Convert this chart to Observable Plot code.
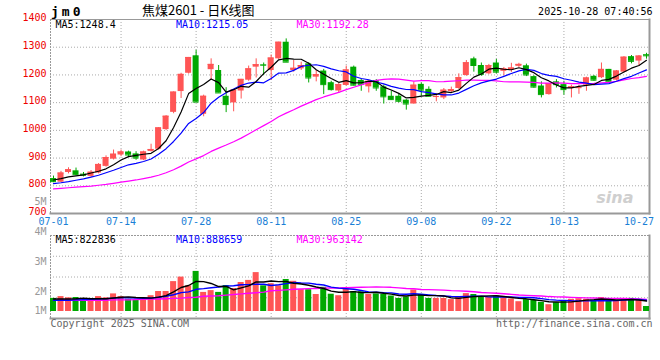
<!DOCTYPE html>
<html><head><meta charset="utf-8">
<script src="https://cdn.jsdelivr.net/npm/d3@7"></script>
<script src="https://cdn.jsdelivr.net/npm/@observablehq/plot@0.6"></script>
<style>
body{margin:0;background:#fff}
#chart{position:relative;width:660px;height:360px;overflow:hidden;background:#fff}
#chart svg{position:absolute;left:0;overflow:visible}
</style></head><body><div id="chart"></div>
<script>
const dates = ["07-01","07-02","07-03","07-04","07-07","07-08","07-09","07-10","07-11","07-14","07-15","07-16","07-17","07-18","07-21","07-22","07-23","07-24","07-25","07-28","07-29","07-30","07-31","08-01","08-04","08-05","08-06","08-07","08-08","08-11","08-12","08-13","08-14","08-15","08-18","08-19","08-20","08-21","08-22","08-25","08-26","08-27","08-28","08-29","09-01","09-02","09-03","09-04","09-05","09-08","09-09","09-10","09-11","09-12","09-15","09-16","09-17","09-18","09-19","09-22","09-23","09-24","09-25","09-26","09-29","09-30","10-09","10-10","10-13","10-14","10-15","10-16","10-17","10-20","10-21","10-22","10-23","10-24","10-27","10-28"];
const open = [826,813,848,854,842,834,846,870,896,911, 922,915,893,924,932,1003,1065,1140,1206,1269, 1058,1219,1216,1123,1099,1142,1181,1228,1237,1216, 1258,1318,1216,1222,1240,1192,1214,1172,1142,1162, 1228,1180,1157,1180,1157,1123,1123,1109,1095,1166, 1148,1120,1117,1140,1151,1198,1258,1234,1204,1243, 1213,1218,1231,1233,1194,1160,1129,1175,1165,1151, 1151,1163,1195,1190,1220,1181,1210,1266,1250,1273];
const high = [835,852,865,864,848,855,880,908,929,929, 925,923,925,950,1010,1053,1139,1206,1263,1289, 1127,1258,1234,1154,1145,1184,1232,1258,1243,1272, 1318,1330,1252,1246,1244,1216,1220,1177,1169,1232, 1232,1186,1177,1183,1163,1142,1133,1111,1175,1171, 1157,1133,1151,1156,1204,1252,1264,1243,1238,1256, 1227,1242,1242,1239,1197,1175,1169,1183,1177,1163, 1163,1192,1198,1243,1220,1216,1266,1270,1270,1278];
const low = [811,811,843,837,832,830,843,867,893,905, 905,892,891,922,929,999,1060,1115,1203,1100, 1049,1180,1135,1064,1067,1113,1177,1189,1198,1180, 1256,1246,1210,1216,1171,1175,1129,1142,1133,1160, 1160,1141,1135,1141,1095,1109,1099,1073,1095,1123, 1121,1103,1111,1135,1148,1195,1210,1195,1201,1204, 1197,1209,1227,1194,1152,1117,1127,1153,1127,1117, 1130,1141,1177,1187,1175,1178,1207,1240,1231,1257];
const close = [815,846,858,840,838,849,877,902,914,922, 911,900,922,931,1009,1051,1138,1202,1263,1102, 1123,1238,1135,1093,1145,1184,1222,1237,1235,1261, 1318,1246,1224,1234,1189,1201,1165,1147,1165,1218, 1163,1166,1177,1153,1121,1111,1105,1095,1163,1145, 1123,1122,1145,1147,1190,1244,1234,1202,1234,1210, 1222,1225,1238,1200,1156,1129,1169,1165,1147,1157, 1154,1189,1181,1220,1175,1214,1264,1249,1268,1269];
const volume = [1810000,1870000,1830000,1840000,1750000,1710000,1870000,1830000,1960000,1870000, 1780000,1760000,1780000,1900000,2040000,2040000,2370000,2520000,2230000,2710000, 2010000,2070000,2010000,2240000,2140000,2340000,2410000,2670000,2230000,2300000, 2230000,2440000,2380000,2100000,2100000,1940000,2180000,1950000,1900000,2110000, 2040000,2030000,1940000,1960000,1940000,1890000,1810000,1860000,2090000,1940000, 1810000,1810000,1810000,1770000,1860000,1970000,1940000,1860000,1840000,1890000, 1830000,1790000,1700000,1770000,1740000,1680000,1600000,1670000,1740000,1780000, 1800000,1780000,1740000,1840000,1710000,1710000,1800000,1810000,1750000,1540000];

// moving-average values before a full window is available
const ma5Lead = [821,826,832,836];
const ma10Lead = [808,811,815,820,825,831,838,847,856];
const ma30Lead = [789,791,793,795,797,799,802,805,809,813,817,821,826,831,838,847,858,871,886,897,909,924,936,947,959,972,987,1002,1017];
const vma5Lead = [1790000,1790000,1790000,1800000];
const vma10Lead = [1750000,1750000,1750000,1760000,1770000,1780000,1790000,1800000,1820000];
const vma30Lead = [1750000,1750000,1750000,1750000,1750000,1750000,1750000,1750000,1760000,1760000,1760000,1770000,1780000,1790000,1790000,1800000,1810000,1820000,1840000,1850000,1880000,1890000,1900000,1920000,1940000,1960000,1980000,2000000,2020000];

const priceTicks = [700,800,900,1000,1100,1200,1300,1400];
const volTicks = [1000000,2000000,3000000,4000000,5000000];
const xTickLabels = ["07-01","07-14","07-28","08-11","08-25","09-08","09-22","10-13","10-27"];
const maLegend = ["MA5:1248.4","MA10:1215.05","MA30:1192.28"];
const volMaLegend = ["MA5:822836","MA10:888659","MA30:963142"];
const maColors = ["#000000","#0000ff","#ff00ff"];
const titleCode = "jm0";
const titleText = "焦煤2601 - 日K线图";
const stamp = "2025-10-28 07:40:56";
const copyright = "Copyright 2025 SINA.COM";
const siteUrl = "http://finance.sina.com.cn";

function movingAvg(vals, n, lead) {
  return vals.map((v, i) => i < n - 1 ? lead[i] : d3.mean(vals.slice(i - n + 1, i + 1)));
}
const ma5 = movingAvg(close, 5, ma5Lead), ma10 = movingAvg(close, 10, ma10Lead), ma30 = movingAvg(close, 30, ma30Lead);
const vma5 = movingAvg(volume, 5, vma5Lead), vma10 = movingAvg(volume, 10, vma10Lead), vma30 = movingAvg(volume, 30, vma30Lead);

const RED = "#ff5555", GREEN = "#00a800";
const data = dates.map((d, i) => ({
  date: d, o: open[i], h: high[i], l: low[i], c: close[i], v: volume[i],
  col: close[i] >= open[i] ? RED : GREEN,
  ma5: ma5[i], ma10: ma10[i], ma30: ma30[i], vma5: vma5[i], vma10: vma10[i], vma30: vma30[i]
}));

const mono = "'DejaVu Sans Mono', monospace";
const GRID = {stroke: "#aaa", strokeOpacity: 1, strokeDasharray: "1,2"};
const xOpts = {type: "band", domain: dates, paddingInner: 0.2, paddingOuter: 0, axis: null};
const T = {lineAnchor: "middle"};
const legendDx = [5, 125.5, 246];

const price = Plot.plot({
  width: 660, height: 232, marginTop: 19, marginBottom: 19, marginLeft: 50, marginRight: 11,
  style: {fontFamily: mono, fontSize: "10px", overflow: "visible", background: "transparent"},
  x: xOpts,
  y: {domain: [700, 1400], axis: null},
  color: {type: "identity"},
  marks: [
    Plot.gridY(priceTicks.slice(1, -1), GRID),
    Plot.gridX(xTickLabels.slice(1, -1), GRID),
    Plot.frame({anchor: "top", stroke: "#999"}),
    Plot.frame({anchor: "left", stroke: "#999", strokeDasharray: "1,2"}),
    Plot.frame({anchor: "bottom", stroke: "#999", strokeWidth: 2}),
    Plot.frame({anchor: "right", stroke: "#999", strokeWidth: 2}),
    Plot.text(["sina"], {...T, frameAnchor: "bottom-right", dx: -16, dy: -16, fill: "#cfcfcf", fontSize: 16, fontWeight: "bold", fontStyle: "italic", fontFamily: "'DejaVu Sans', sans-serif"}),
    Plot.ruleX(data, {x: "date", y1: "l", y2: "h", stroke: "col"}),
    Plot.barY(data, {x: "date", y1: "o", y2: "c", fill: "col"}),
    Plot.tickY(data, {x: "date", y: "c", stroke: "col"}),
    Plot.lineY(data, {x: "date", y: "ma30", stroke: maColors[2], strokeWidth: 1.2}),
    Plot.lineY(data, {x: "date", y: "ma10", stroke: maColors[1], strokeWidth: 1.2}),
    Plot.lineY(data, {x: "date", y: "ma5", stroke: maColors[0], strokeWidth: 1.2}),
    Plot.text(priceTicks, {...T, y: d => d, text: d => String(d), frameAnchor: "left", dx: -4, dy: -1.5, textAnchor: "end", fill: "#ee0000"}),
    Plot.text(xTickLabels, {...T, x: d => d, text: d => d, frameAnchor: "bottom", dy: 8, fill: "#1a7fd6"}),
    ...maLegend.map((t, i) => Plot.text([t], {...T, text: d => d, frameAnchor: "top-left", dx: legendDx[i], dy: 5, textAnchor: "start", fill: maColors[i]})),
    Plot.text([titleCode], {...T, text: d => d, frameAnchor: "top-left", dx: 0.5, dy: -8, textAnchor: "start", fontSize: 13, fontWeight: "bold", fill: "#000"}),
    Plot.text([titleText], {...T, text: d => d, frameAnchor: "top-left", dx: 91.5, dy: -8.8, textAnchor: "start", fontSize: 13, fontFamily: "'Noto Sans CJK SC', sans-serif", fill: "#000"}),
    Plot.text([stamp], {...T, text: d => d, frameAnchor: "top-right", dx: 3, dy: -8, textAnchor: "end", fill: "#000"})
  ]
});
price.style.top = "0px";
price.querySelectorAll("text").forEach(t => {
  if (t.textContent === titleCode) t.style.letterSpacing = "3px";
});

const vDomain = [1140000, 3907000];
const vGrid = [1, 2, 3].map(k => vDomain[0] + (vDomain[1] - vDomain[0]) * k / 4);
const vol = Plot.plot({
  width: 660, height: 129, marginTop: 45, marginBottom: 1, marginLeft: 50, marginRight: 11,
  style: {fontFamily: mono, fontSize: "10px", overflow: "visible", background: "transparent"},
  x: xOpts,
  y: {domain: vDomain, axis: null},
  color: {type: "identity"},
  marks: [
    Plot.gridY(vGrid, GRID),
    Plot.gridX(xTickLabels.slice(1, -1), GRID),
    Plot.frame({anchor: "top", stroke: "#999", strokeDasharray: "1,2"}),
    Plot.frame({anchor: "left", stroke: "#999", strokeDasharray: "1,2"}),
    Plot.frame({anchor: "bottom", stroke: "#999", strokeWidth: 2}),
    Plot.frame({anchor: "right", stroke: "#999", strokeWidth: 2}),
    Plot.barY(data, {x: "date", y1: vDomain[0], y2: "v", fill: "col", insetBottom: 7}),
    Plot.lineY(data, {x: "date", y: "vma30", stroke: maColors[2], strokeWidth: 1.4}),
    Plot.lineY(data, {x: "date", y: "vma10", stroke: maColors[1], strokeWidth: 1.4}),
    Plot.lineY(data, {x: "date", y: "vma5", stroke: maColors[0], strokeWidth: 1.4}),
    Plot.text(volTicks.slice(1), {...T, y: d => d, text: d => d / 1e6 + "M", frameAnchor: "left", dx: -4, dy: -1, textAnchor: "end", fill: "#999"}),
    Plot.text(volTicks.slice(0, 1), {...T, y: d => d, text: d => d / 1e6 + "M", frameAnchor: "left", dx: -4, dy: -11.5, textAnchor: "end", fill: "#999"}),
    ...volMaLegend.map((t, i) => Plot.text([t], {...T, text: d => d, frameAnchor: "top-left", dx: legendDx[i], dy: 4, textAnchor: "start", fill: maColors[i]})),
    Plot.text([copyright], {...T, text: d => d, frameAnchor: "bottom-left", dy: 5.5, textAnchor: "start", fill: "#666"}),
    Plot.text([siteUrl], {...T, text: d => d, frameAnchor: "bottom-right", dx: 3, dy: 5.5, textAnchor: "end", fill: "#666"})
  ]
});
vol.style.top = "190px";

const chart = document.getElementById("chart");
chart.appendChild(price);
chart.appendChild(vol);
</script></body></html>
